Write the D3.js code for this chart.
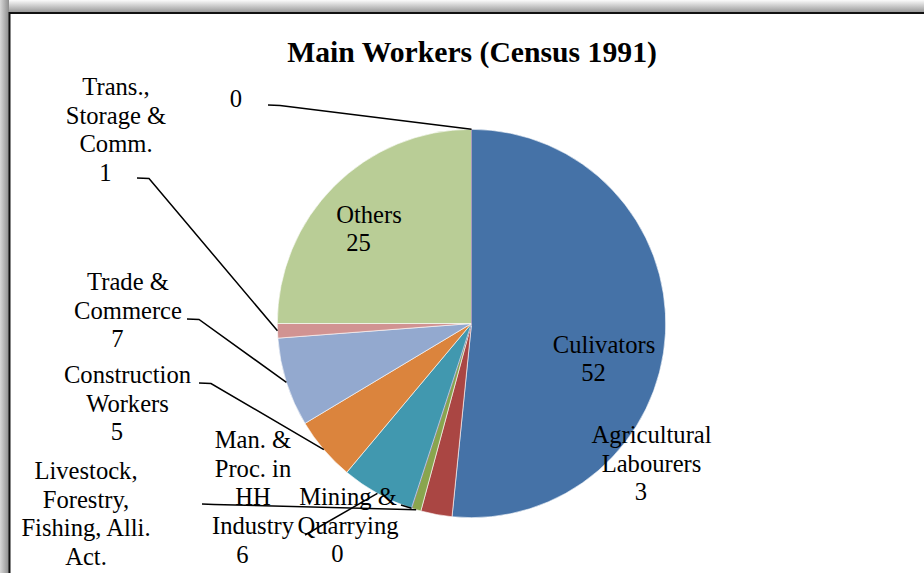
<!DOCTYPE html>
<html>
<head>
<meta charset="utf-8">
<script src="https://cdn.jsdelivr.net/npm/d3@7"></script>
<style>
  body { margin: 0; background: #fff; }
  svg { display: block; }
  text { font-family: "Liberation Serif", "Times New Roman", serif; fill: #000; }
</style>
</head>
<body>
<div id="chart"></div>
<script>
// Data (share of main workers, %)
var categories = [
  ["Culivators"],
  ["Agricultural", "Labourers"],
  ["Livestock,", "Forestry,", "Fishing, Alli.", "Act."],
  ["Mining &", "Quarrying"],
  ["Man. &", "Proc. in", "HH", "Industry"],
  ["Construction", "Workers"],
  ["Trade &", "Commerce"],
  ["Trans.,", "Storage &", "Comm."],
  ["Others"],
  []
]
var shares = [51.6, 2.6, 0.8, 0, 6.1, 5.3, 7.4, 1.2, 25.0, 0]
var valueLabels = ["52", "3", "1", "0", "6", "5", "7", "1", "25", "0"]

var colors = ["#4572A7", "#AA4643", "#89A54E", "#71588F", "#4198AF",
              "#DB843D", "#93A9CF", "#D19392", "#B9CD96", "#A99BBD"]

// label placement (center x, first baseline, leader start, horizontal stub length)
var labelLayout = [
  {x: 604,   y: 352.7, lead: null},
  {x: 651.5, y: 443,   lead: null},
  {x: 86,    y: 479,   lead: [202, 504], stub: 12},
  {x: 348,   y: 505,   lead: [401, 505], stub: 0},
  {x: 253,   y: 448,   lead: [305, 535], stub: 0},
  {x: 127.5, y: 383,   lead: [199, 383], stub: 12},
  {x: 128,   y: 290,   lead: [187, 319], stub: 12},
  {x: 116,   y: 95,    lead: [137, 178], stub: 12},
  {x: 369,   y: 222.7, lead: null},
  {x: 246.5, y: 107,   lead: [268, 105], stub: 12}
]

var width = 924
var height = 573
var cx = 471.5
var cy = 323.5
var radius = 194.2
var lineH = 28.7
var valueDx = -10.5

var svg = d3.select("#chart").append("svg")
    .attr("width", width)
    .attr("height", height)

var defs = svg.append("defs")
var gTop = defs.append("linearGradient").attr("id", "shadeTop")
    .attr("x1", 0).attr("y1", 0).attr("x2", 0).attr("y2", 1)
gTop.append("stop").attr("offset", "0%").attr("stop-color", "#fbfbfb")
gTop.append("stop").attr("offset", "100%").attr("stop-color", "#9a9a9a")
var gLeft = defs.append("linearGradient").attr("id", "shadeLeft")
    .attr("x1", 0).attr("y1", 0).attr("x2", 1).attr("y2", 0)
gLeft.append("stop").attr("offset", "0%").attr("stop-color", "#d8d8d8")
gLeft.append("stop").attr("offset", "100%").attr("stop-color", "#8c8c8c")

// shadow + frame of the chart area
svg.append("rect").attr("x", 0).attr("y", 0).attr("width", width).attr("height", 12)
    .attr("fill", "url(#shadeTop)")
svg.append("rect").attr("x", 0).attr("y", 0).attr("width", 9).attr("height", height)
    .attr("fill", "url(#shadeLeft)")
svg.append("rect")
    .attr("x", 9.5).attr("y", 13)
    .attr("width", width + 20).attr("height", height + 20)
    .attr("fill", "#fff")
    .attr("stroke", "#111")
    .attr("stroke-width", 2)

svg.append("text")
    .attr("x", 472)
    .attr("y", 62)
    .attr("text-anchor", "middle")
    .style("font-size", "29.7px")
    .style("font-weight", "bold")
    .text("Main Workers (Census 1991)")

var pie = d3.pie().sort(null).value(function(d){ return d })
var arcs = pie(shares)
var arc = d3.arc().innerRadius(0).outerRadius(radius)
var edge = d3.arc().innerRadius(radius).outerRadius(radius)

var g = svg.append("g").attr("transform", "translate(" + cx + "," + cy + ")")

g.selectAll("path")
    .data(arcs)
    .enter().append("path")
    .attr("d", arc)
    .attr("fill", function(d, i){ return colors[i] })
    .attr("stroke", function(d, i){ return d.value === 0 ? colors[i] : "#fff" })
    .attr("stroke-width", function(d){ return d.value === 0 ? 1 : 0.6 })

// leader lines
var leaders = svg.append("g")
arcs.forEach(function(d, i){
  var L = labelLayout[i]
  if (!L.lead) return
  var p = edge.centroid(d)
  var pts = [L.lead]
  if (L.stub) pts.push([L.lead[0] + L.stub, L.lead[1] + 0.5])
  pts.push([cx + p[0], cy + p[1]])
  leaders.append("path")
      .attr("d", d3.line()(pts))
      .attr("fill", "none")
      .attr("stroke", "#000")
      .attr("stroke-width", 1.5)
})

// data labels: category lines then the value
var labels = svg.append("g").style("font-size", "24.6px")
categories.forEach(function(lines, i){
  var L = labelLayout[i]
  var t = labels.append("text").attr("text-anchor", "middle")
  lines.forEach(function(s, k){
    t.append("tspan").attr("x", L.x).attr("y", L.y + k * lineH).text(s)
  })
  t.append("tspan")
      .attr("x", L.x + valueDx)
      .attr("y", L.y + lines.length * lineH)
      .text(valueLabels[i])
})
</script>
</body>
</html>
